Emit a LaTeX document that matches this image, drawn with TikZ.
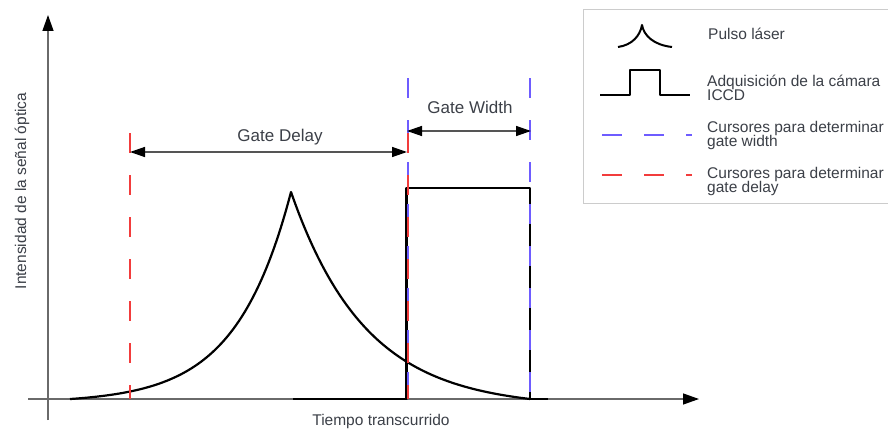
\documentclass[tikz,border=0pt]{standalone}
\usepackage{fontspec}
\setmainfont{Liberation Sans}
\usetikzlibrary{arrows.meta}
\definecolor{txt}{HTML}{3C4048}
\definecolor{axisgray}{HTML}{6A6A6A}
\definecolor{dimgray}{HTML}{555555}
\definecolor{cblue}{HTML}{6E5CFF}
\definecolor{cred}{HTML}{F23C3C}
\definecolor{boxgray}{HTML}{CCCCCC}
\begin{document}
\begin{tikzpicture}[x=1pt,y=-1pt,
  lbl/.style={text=txt, font=\fontsize{15.5}{15}\selectfont, inner sep=0pt},
  big/.style={text=txt, font=\fontsize{17}{19}\selectfont, inner sep=0pt},
  sig/.style={black, line width=2.2pt, line join=round},
  cursor/.style={line width=2pt, dash pattern=on 20pt off 22pt},
  dim/.style={dimgray, line width=1.4pt, {Triangle[black,length=15pt,width=10pt]}-{Triangle[black,length=15pt,width=10pt]}},
  axis/.style={axisgray, line width=1.3pt, -{Triangle[black,length=16pt,width=11pt]}}]
\useasboundingbox (0,0) rectangle (888,428);
\fill[white] (0,0) rectangle (888,428);
% axes
\coordinate (xs) at (28,399);
\coordinate (xe) at (699,399);
\coordinate (ys) at (48,420);
\coordinate (ye) at (48,15);
\draw[axis] (xs) -- (xe);
\draw[axis] (ys) -- (ye);
% laser pulse
\draw[sig] plot[domain=70:291, samples=90] (\x, {399-210.8*exp((\x-291)/55)+3.8})
  -- plot[domain=291:530, samples=90] (\x, {399-215.9*exp((291-\x)/75)+8.9});
% ICCD acquisition
\draw[sig] (293,399) -- (406.5,399) -- (406.5,188) -- (530,188) -- (530,399) -- (548,399);
% cursors
\draw[cursor, cblue] (407.5,78) -- (407.5,399);
\draw[cursor, cblue] (530,78) -- (530,399);
\draw[cursor, cred] (407.5,133) -- (407.5,399);
\draw[cursor, cred] (130,133) -- (130,399);
% dimension arrows
\coordinate (gd1) at (130,152);
\coordinate (gd2) at (407,152);
\coordinate (gw1) at (407,131);
\coordinate (gw2) at (531,131);
\draw[dim] (gd1) -- (gd2);
\draw[dim] (gw1) -- (gw2);
\node[big, anchor=base] (gdl) at (280,141) {Gate Delay};
\node[big, anchor=base] (gwl) at (470,113) {Gate Width};
% axis labels
\node[lbl, anchor=base, rotate=90] (yl) at (26,191) {Intensidad de la señal óptica};
\node[lbl, anchor=base] (xl) at (381,425) {Tiempo transcurrido};
% legend
\draw[boxgray, line width=1pt] (892,10) -- (583,10) -- (583,203) -- (892,203);
\draw[sig, line width=2pt] (618,47) .. controls (632,45) and (640,36) .. (642,25)
  .. controls (644,36) and (654,45) .. (672,47);
\draw[sig, line width=2pt] (600,95) -- (630,95) -- (630,70) -- (660,70) -- (660,95) -- (690,95);
\draw[cursor, cblue] (602,135) -- (692,135);
\draw[cursor, cred] (602,175) -- (692,175);
\node[lbl, anchor=base west] (l1) at (708,40) {Pulso láser};
\node[lbl, anchor=base west] (l2a) at (707,86) {Adquisición de la cámara};
\node[lbl, anchor=base west] (l2b) at (707,100) {ICCD};
\node[lbl, anchor=base west] (l3a) at (707,132) {Cursores para determinar};
\node[lbl, anchor=base west] (l3b) at (707,146) {gate width};
\node[lbl, anchor=base west] (l4a) at (707,178) {Cursores para determinar};
\node[lbl, anchor=base west] (l4b) at (707,192) {gate delay};
\end{tikzpicture}
\end{document}
